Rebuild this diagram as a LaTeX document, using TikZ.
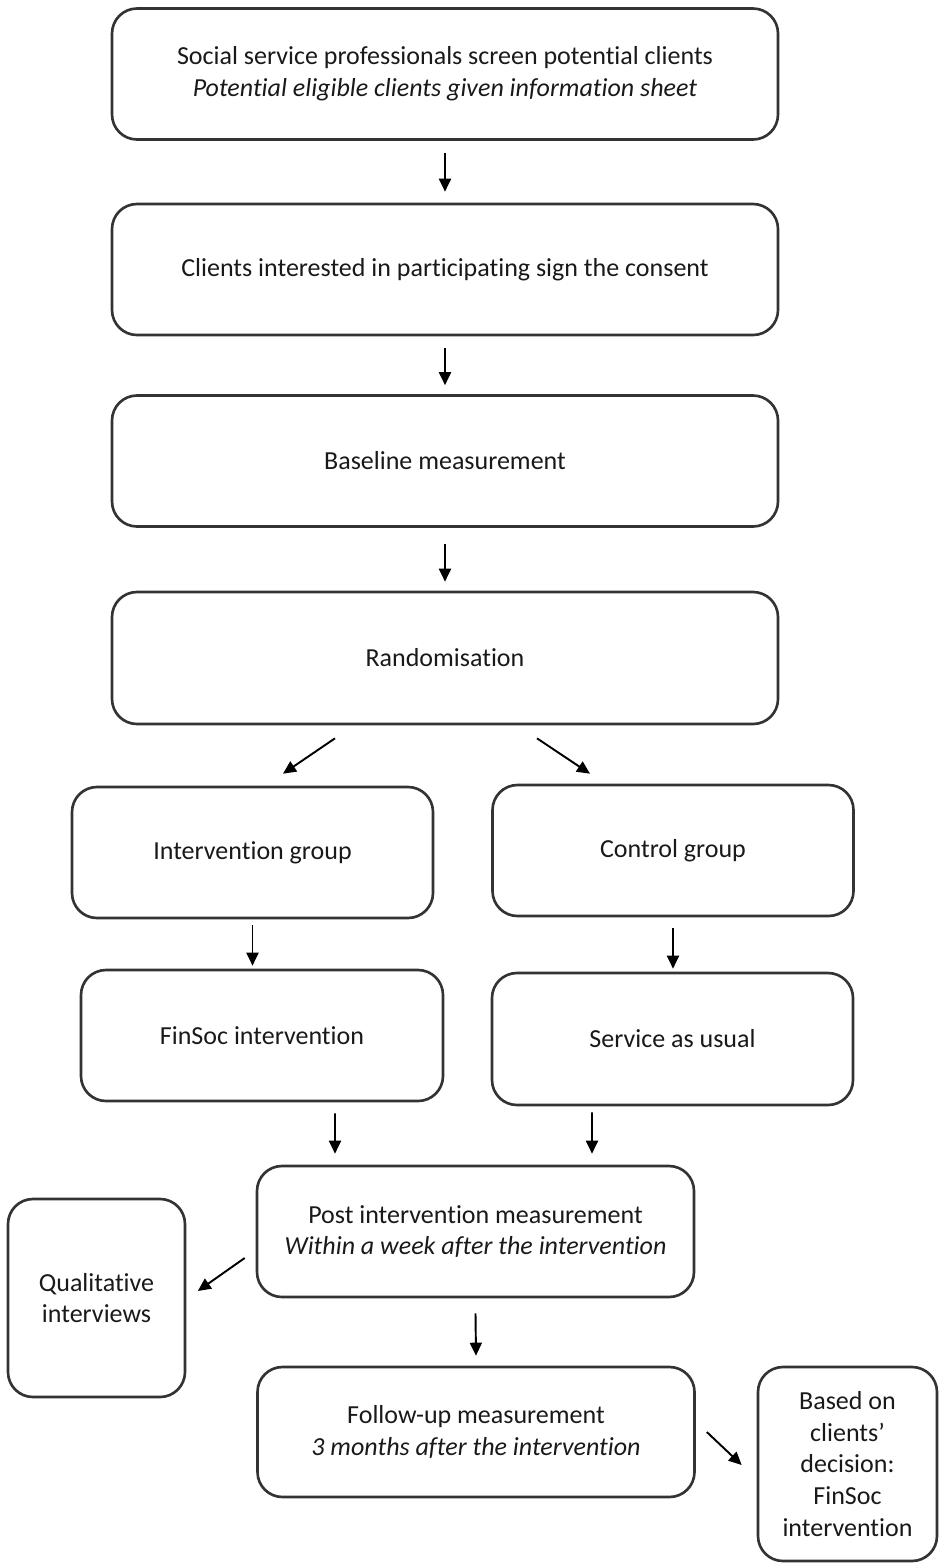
\documentclass[tikz,border=0pt]{standalone}
\usepackage{fontspec}
\setmainfont{Carlito}[Ligatures={TeX,NoCommon}]
\usetikzlibrary{arrows.meta}
\definecolor{boxText}{gray}{0.1}
\definecolor{boxLine}{gray}{0.2}
\tikzset{
    BOX/.style={draw=boxLine, shape=rectangle, rounded corners=2.5mm,
        line width=0.75pt, inner sep=0mm, align=center, text=boxText,
        font={\fontsize{7.4}{9}\selectfont}},
    WIDE_BOX/.style={BOX, minimum width=66.6mm, minimum height=13.1mm},
    HALF_BOX/.style={BOX, minimum width=36.1mm, minimum height=13.1mm},
    MID_BOX/.style={BOX, minimum width=43.7mm, minimum height=13.1mm},
    TALL_BOX/.style={BOX, minimum width=17.7mm, minimum height=19.7mm},
    ARROW/.style={draw=black, line width=0.55pt,
        -{Triangle[length=1.3mm, width=1.2mm]}}
}
\pgfdeclarelayer{edgelayer}
\pgfdeclarelayer{nodelayer}
\pgfsetlayers{edgelayer,nodelayer,main}

\begin{document}
\begin{tikzpicture}
    \useasboundingbox (0, 0) rectangle (9.39, -15.64);
    \begin{pgfonlayer}{nodelayer}
        \node [WIDE_BOX] (1) at (4.45, -0.74) {Social service professionals screen potential clients\\
            \textit{Potential eligible clients given information sheet}};
        \node [WIDE_BOX] (2) at (4.45, -2.695) {Clients interested in participating sign the consent};
        \node [WIDE_BOX] (3) at (4.45, -4.61) {Baseline measurement};
        \node [WIDE_BOX, minimum height=13.2mm] (4) at (4.45, -6.58) {Randomisation};
        \node [HALF_BOX] (5) at (2.525, -8.525) {Intervention group};
        \node [HALF_BOX] (6) at (6.73, -8.505) {Control group};
        \node [HALF_BOX, minimum width=36.2mm] (7) at (2.62, -10.355) {FinSoc intervention};
        \node [HALF_BOX, minimum height=13.2mm] (8) at (6.725, -10.39) {Service as usual};
        \node [MID_BOX] (9) at (4.755, -12.315) {Post intervention measurement\\
            \textit{Within a week after the intervention}};
        \node [TALL_BOX, minimum height=19.8mm] (10) at (0.965, -12.98) {Qualitative\\ interviews};
        \node [MID_BOX, minimum height=13mm] (11) at (4.76, -14.32) {Follow-up measurement\\
            \textit{3 months after the intervention}};
        \node [TALL_BOX, minimum width=17.9mm, minimum height=19.4mm] (12) at (8.475, -14.64)
            {Based on\\ clients'\\ decision:\\ FinSoc\\ intervention};
    \end{pgfonlayer}
    \begin{pgfonlayer}{edgelayer}
        \draw[ARROW] ([yshift=-1.2mm]1.south) to ([yshift=1.1mm]2.north);
        \draw[ARROW] ([yshift=-1.2mm]2.south) to ([yshift=0.9mm]3.north);
        \draw[ARROW] ([yshift=-1.6mm]3.south) to ([yshift=0.9mm]4.north);
        \draw[ARROW] ([xshift=-11mm, yshift=-1.3mm]4.south) to ([xshift=3.05mm, yshift=1.2mm]5.north);
        \draw[ARROW] ([xshift=9.2mm, yshift=-1.3mm]4.south) to ([xshift=-8.3mm, yshift=1mm]6.north);
        \draw[ARROW] ([yshift=-0.6mm]5.south) to ([yshift=0.3mm]5.south |- 7.north);
        \draw[ARROW] ([yshift=-1.1mm]6.south) to ([yshift=0.3mm]6.south |- 8.north);
        \draw[ARROW] ([xshift=7.3mm, yshift=-1.1mm]7.south) to ([xshift=-14.05mm, yshift=1.1mm]9.north);
        \draw[ARROW] ([xshift=-8.05mm, yshift=-0.6mm]8.south) to ([xshift=11.65mm, yshift=1.1mm]9.north);
        \draw[ARROW] ([xshift=-1.1mm, yshift=-2.65mm]9.west) to ([xshift=1.15mm, yshift=0.7mm]10.east);
        \draw[ARROW] ([yshift=-1.5mm]9.south) to ([yshift=1mm]11.north);
        \draw[ARROW] ([xshift=1.1mm]11.east) to ([xshift=-1.5mm, yshift=-0.1mm]12.west);
    \end{pgfonlayer}
\end{tikzpicture}
\end{document}
